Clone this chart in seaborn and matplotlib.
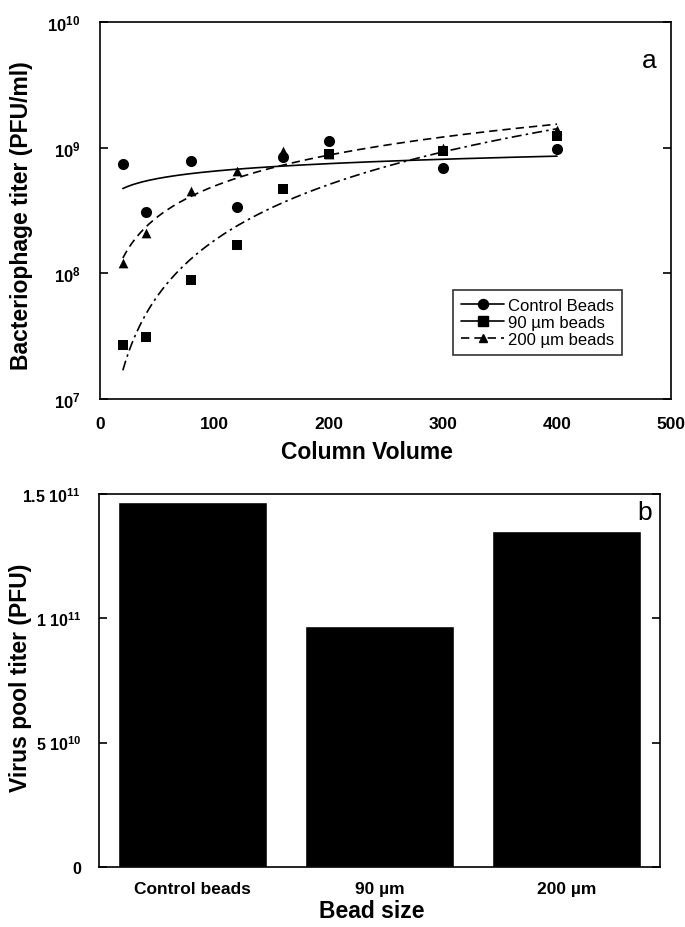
import numpy as np
import pandas as pd
import seaborn as sns
import matplotlib
matplotlib.use("Agg")
import matplotlib.pyplot as plt
from matplotlib.lines import Line2D

# panel a: titer vs column volume
column_volume = [20, 40, 80, 120, 160, 200, 300, 400]
control_titer = [7.4e8, 3.1e8, 7.9e8, 3.4e8, 8.5e8, 1.14e9, 6.9e8, 9.8e8]
beads90_titer = [2.7e7, 3.1e7, 8.9e7, 1.67e8, 4.7e8, 8.9e8, 9.4e8, 1.25e9]
beads200_titer = [1.22e8, 2.1e8, 4.5e8, 6.5e8, 9.5e8, 8.9e8, 1.0e9, 1.38e9]
series_labels = ["Control Beads", "90 \u00b5m beads", "200 \u00b5m beads"]

# panel b: pooled titer per bead size
bead_sizes = ["Control beads", "90 \u00b5m", "200 \u00b5m"]
pool_titer = [1.467e11, 0.967e11, 1.35e11]

sns.set_theme(style="ticks")
plt.rcParams["font.family"] = ["Liberation Sans", "DejaVu Sans"]
plt.rcParams["mathtext.fontset"] = "custom"
plt.rcParams["mathtext.rm"] = "Liberation Sans:bold"
plt.rcParams["mathtext.default"] = "rm"
plt.rcParams["axes.linewidth"] = 1.2
for key in ("text.color", "axes.labelcolor", "xtick.color", "ytick.color",
            "axes.edgecolor"):
    plt.rcParams[key] = "black"

fig = plt.figure(figsize=(6.85, 9.28), dpi=100)
ax1 = fig.add_axes([0.146, 0.569, 0.834, 0.406])
ax2 = fig.add_axes([0.1445, 0.0647, 0.819, 0.402])

styles = [
    (control_titer, "o", 8, None),
    (beads90_titer, "s", 7.5, (6, 2.5, 1.5, 2.5)),
    (beads200_titer, "^", 7, (5, 3)),
]

handles = []
x = np.array(column_volume, dtype=float)
xfit = np.linspace(x.min(), x.max(), 200)
for (vals, mk, ms, dash), lab in zip(styles, series_labels):
    y = np.array(vals)
    sns.scatterplot(x=x, y=y, marker=mk, s=ms ** 2, color="black",
                    edgecolor="black", linewidth=0, ax=ax1, zorder=3)
    # power-law trend line fitted to the points
    b, a = np.polyfit(np.log10(x), np.log10(y), 1)
    yfit = 10 ** (a + b * np.log10(xfit))
    sns.lineplot(x=xfit, y=yfit, color="black", lw=1.2, ax=ax1)
    if dash is not None:
        ax1.lines[-1].set_dashes(dash)
    h = Line2D([], [], color="black", lw=1.2, marker=mk, markersize=ms * 0.9)
    if mk == "^":
        h.set_dashes(dash)
    handles.append(h)

ax1.set_yscale("log")
ax1.set_xlim(0, 500)
ax1.set_ylim(1e7, 1e10)
ax1.set_xticks([0, 100, 200, 300, 400, 500])
ax1.set_yticks([1e7, 1e8, 1e9, 1e10])
ax1.set_yticklabels([r"$10^{7}$", r"$10^{8}$", r"$10^{9}$", r"$10^{10}$"])
ax1.minorticks_off()
ax1.tick_params(axis="y", which="major", direction="in", length=6, width=1.2,
                left=True, right=True, labelsize=12, pad=14)
ax1.tick_params(axis="x", length=0, labelsize=12.5, pad=12)
for t in ax1.get_xticklabels():
    t.set_fontweight("bold")
ax1.set_xlabel("Column Volume", fontsize=16.5, fontweight="bold")
ax1.set_ylabel("Bacteriophage titer (PFU/ml)", fontsize=16.5, fontweight="bold")
ax1.xaxis.set_label_coords(0.468, -0.108)
ax1.yaxis.set_label_coords(-0.117, 0.49)
ax1.text(0.961, 0.9, "a", transform=ax1.transAxes, fontsize=19,
         ha="center", va="center")
leg = ax1.legend(handles, series_labels, loc="lower right",
                 bbox_to_anchor=(0.914, 0.117), borderaxespad=0, fontsize=12,
                 frameon=True, fancybox=False, edgecolor="black",
                 handlelength=2.6, handletextpad=0.2, labelspacing=0.1,
                 borderpad=0.5)
leg.get_frame().set_linewidth(1.2)

# panel b
df = pd.DataFrame({"bead": bead_sizes, "titer": pool_titer})
sns.barplot(data=df, x="bead", y="titer", color="black", saturation=1,
            width=0.8, ax=ax2)
ax2.set_xlim(-0.5, 2.5)
ax2.set_ylim(0, 1.5e11)
ax2.set_yticks([0, 5e10, 1e11, 1.5e11])
ax2.set_yticklabels(["0", r"5 10$^{10}$", r"1 10$^{11}$", r"1.5 10$^{11}$"])
ax2.tick_params(axis="y", direction="in", length=6, width=1.2,
                left=True, right=True, labelsize=11.5, pad=13)
ax2.tick_params(axis="x", length=0, labelsize=12.5, pad=10)
for t in ax2.get_xticklabels() + ax2.get_yticklabels():
    t.set_fontweight("bold")
ax2.set_xlabel("Bead size", fontsize=16.5, fontweight="bold")
ax2.set_ylabel("Virus pool titer (PFU)", fontsize=16.5, fontweight="bold")
ax2.xaxis.set_label_coords(0.487, -0.085)
ax2.yaxis.set_label_coords(-0.119, 0.51)
ax2.text(0.973, 0.952, "b", transform=ax2.transAxes, fontsize=19,
         ha="center", va="center")

for ax in (ax1, ax2):
    for s in ax.spines.values():
        s.set_visible(True)
        s.set_color("black")
        s.set_linewidth(1.2)

fig.savefig("out.png", dpi=100)
